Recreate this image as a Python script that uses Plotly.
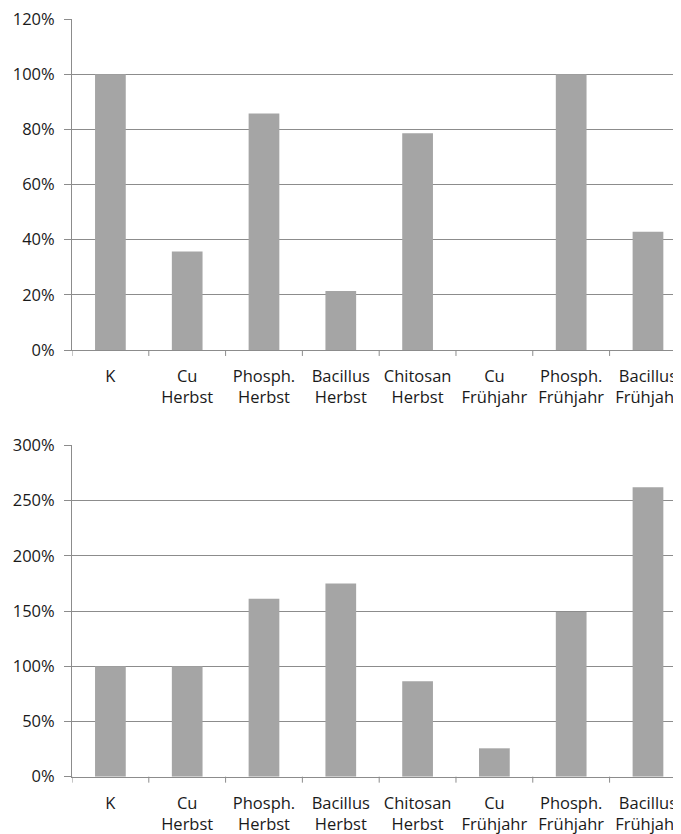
import plotly.graph_objects as go
from plotly.subplots import make_subplots

# Kategorien (zweizeilig wie im Original)
categories = ["K", "Cu<br>Herbst", "Phosph.<br>Herbst", "Bacillus<br>Herbst",
              "Chitosan<br>Herbst", "Cu<br>Frühjahr", "Phosph.<br>Frühjahr",
              "Bacillus<br>Frühjahr"]

# Werte oberes Diagramm (Anteil)
values_top = [1.00, 0.357, 0.857, 0.214, 0.786, 0.0, 1.00, 0.429]
# Werte unteres Diagramm (Anteil)
values_bottom = [1.00, 1.00, 1.61, 1.75, 0.865, 0.257, 1.49, 2.62]

top_ticks = [0, 0.2, 0.4, 0.6, 0.8, 1.0, 1.2]
bottom_ticks = [0, 0.5, 1.0, 1.5, 2.0, 2.5, 3.0]

# Seite hat 8px Body-Rand -> Figur entsprechend kleiner
OFF = 8
W, H = 681 - OFF, 834 - OFF
grey = "#a5a5a5"
axis_col = "#8c8c8c"
font = dict(family="'Open Sans', sans-serif", size=16.5, color="#1a1a1a")

fig = make_subplots(rows=2, cols=1, vertical_spacing=0.1)

fig.add_trace(go.Bar(x=list(range(len(categories))), y=values_top,
                     marker=dict(color=grey, line=dict(width=0)),
                     width=0.4), row=1, col=1)
fig.add_trace(go.Bar(x=list(range(len(categories))), y=values_bottom,
                     marker=dict(color=grey, line=dict(width=0)),
                     width=0.4), row=2, col=1)

xa = dict(range=[-0.5, 7.43], tickmode="array", tickvals=list(range(len(categories))),
          ticktext=categories, showline=True, linecolor=axis_col, linewidth=1,
          showgrid=False, zeroline=False, ticks="", tickfont=font, automargin=False,
          ticklabelstandoff=11, ticklabeloverflow="allow")
fig.update_layout(xaxis=dict(domain=[0, 1], **xa), xaxis2=dict(domain=[0, 1], **xa))

# Teilstriche an den Kategoriegrenzen
boundaries = [i - 0.5 for i in range(len(categories) + 1)]
for ax, yref in (("x", "y domain"), ("x2", "y2 domain")):
    for b in boundaries:
        if b > 7.43:
            continue
        fig.add_shape(type="line", xref=ax, yref=yref, x0=b, x1=b, y0=0, y1=-0.018,
                      line=dict(color=axis_col, width=1))

ya = dict(tickformat=".0%", showline=True, linecolor=axis_col, linewidth=1,
          gridcolor=axis_col, gridwidth=1, zeroline=False, ticks="outside",
          ticklen=7, tickcolor=axis_col, tickfont=font, automargin=False,
          ticklabelstandoff=6, ticklabeloverflow="allow")
# Domains in Figurkoordinaten (Oberkante der Figur liegt bei Seiten-y=8)
fig.update_layout(
    yaxis=dict(domain=[(H - (350 - OFF)) / H, (H - (19 - OFF)) / H], range=[0, 1.2],
               tickvals=top_ticks, **ya),
    yaxis2=dict(domain=[(H - (776.7 - OFF)) / H, (H - (445.3 - OFF)) / H], range=[0, 3.0],
                tickvals=bottom_ticks, **ya),
)

fig.update_layout(
    width=W, height=H,
    margin=dict(l=72 - OFF, r=0, t=0, b=0),
    plot_bgcolor="white", paper_bgcolor="white",
    showlegend=False, bargap=0.6,
)

fig.write_html("out.html")
